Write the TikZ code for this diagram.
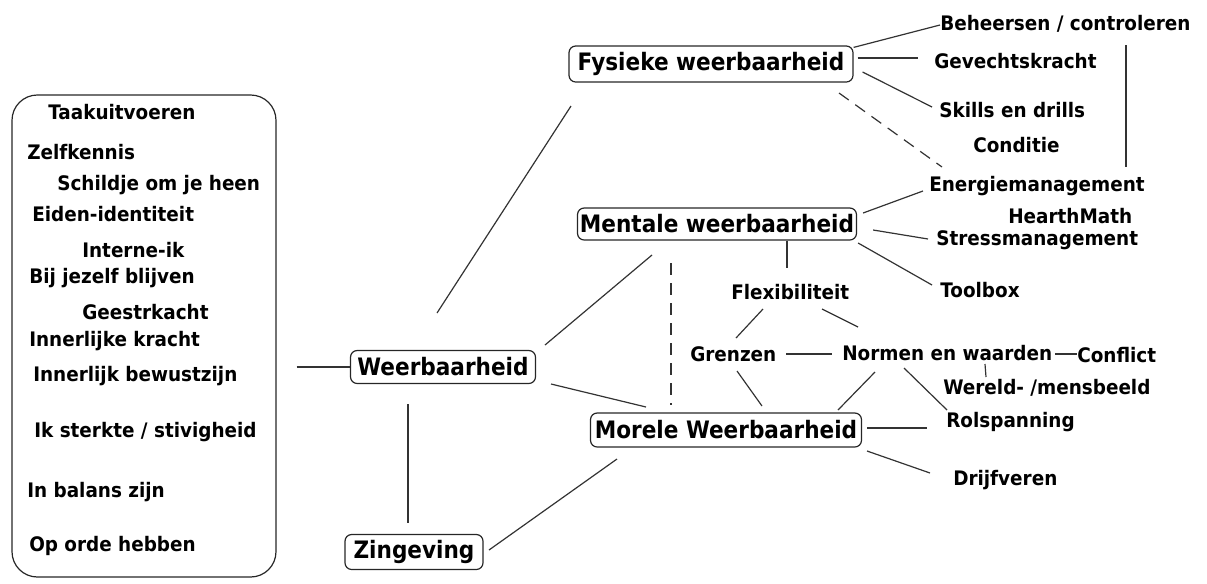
\documentclass[tikz,border=0pt]{standalone}
\usepackage{fontspec}
\usetikzlibrary{calc}
\newfontfamily\lblfont[FakeStretch=0.92]{DejaVu Sans}
\newfontfamily\bigfont[FakeStretch=0.9]{DejaVu Sans}
\tikzset{
  lab/.style={font=\lblfont\bfseries\fontsize{15}{17}\selectfont, inner sep=0pt, anchor=west, text=black},
  bignode/.style={draw=black!85, line width=0.9pt, rounded corners=5pt, font=\bigfont\bfseries\fontsize{18}{20}\selectfont, inner sep=0pt, text=black},
  conn/.style={draw=black!80, line width=0.9pt},
  dconn/.style={conn, dash pattern=on 9pt off 6pt}
}
\begin{document}
\begin{tikzpicture}[x=0.75pt,y=-0.75pt]
\useasboundingbox (0,0) rectangle (1207,583);
% left box
\node[draw=black!85, line width=0.9pt, rounded corners=19pt, minimum width=264*0.75pt, minimum height=482*0.75pt, inner sep=0pt] (lb) at (144,336) {};
\node[lab] (l1) at (48,112) {Taakuitvoeren};
\node[lab] (l2) at (27,152) {Zelfkennis};
\node[lab] (l3) at (57,185) {Schildje om je heen};
\node[lab] (l4) at (32,214) {Eiden-identiteit};
\node[lab] (l5) at (82,250) {Interne-ik};
\node[lab] (l6) at (29,278) {Bij jezelf blijven};
\node[lab] (l7) at (82,312) {Geestrkacht};
\node[lab] (l8) at (29,341) {Innerlijke kracht};
\node[lab] (l9) at (33,376) {Innerlijk bewustzijn};
\node[lab] (l10) at (34,432) {Ik sterkte / stivigheid};
\node[lab] (l11) at (27,492) {In balans zijn};
\node[lab] (l12) at (29,546) {Op orde hebben};
% main nodes
\node[bignode, minimum width=284*0.75pt, minimum height=36*0.75pt] (fy) at (711,64) {Fysieke weerbaarheid};
\node[bignode, minimum width=279*0.75pt, minimum height=32*0.75pt] (me) at (717,224) {Mentale weerbaarheid};
\node[bignode, minimum width=185*0.75pt, minimum height=33*0.75pt] (wb) at (443,367) {Weerbaarheid};
\node[bignode, minimum width=271*0.75pt, minimum height=34*0.75pt] (mo) at (726,430) {Morele Weerbaarheid};
\node[bignode, minimum width=138*0.75pt, minimum height=35*0.75pt] (zi) at (414,552) {Zingeving};
% right labels
\node[lab] (bh) at (940,24) {Beheersen / controleren};
\node[lab] (ge) at (934,61) {Gevechtskracht};
\node[lab] (sk) at (939,110) {Skills en drills};
\node[lab] (co) at (973,145) {Conditie};
\node[lab] (en) at (929,186) {Energiemanagement};
\node[lab] (hm) at (1008,216) {HearthMath};
\node[lab] (st) at (936,240) {Stressmanagement};
\node[lab] (tb) at (940,290) {Toolbox};
\node[lab] (fl) at (731,292) {Flexibiliteit};
\node[lab] (gr) at (690,354) {Grenzen};
\node[lab] (nw) at (842,353) {Normen en waarden};
\node[lab] (cf) at (1077,355) {Conflict};
\node[lab] (wm) at (943,388) {Wereld- /mensbeeld};
\node[lab] (rs) at (946,422) {Rolspanning};
\node[lab] (dr) at (953,480) {Drijfveren};
% connectors
\draw[conn] ($(lb.east |- wb)+(20,0)$) -- (wb.west);
\draw[conn] ($(wb)+(-6,-54)$) -- ($(fy)+(-140,42)$);
\draw[conn] ($(wb)+(102,-22)$) -- ($(me)+(-65,31)$);
\draw[conn] ($(wb)+(108,17)$) -- ($(mo)+(-80,-23)$);
\draw[conn] ($(wb)+(-35,37)$) -- ($(zi)+(-6,-29)$);
\draw[conn] ($(zi)+(75,-2)$) -- ($(mo)+(-109,29)$);
\draw[dconn] ($(me)+(-46,39)$) -- ($(mo)+(-55,-25)$);
\draw[dconn] ($(fy)+(128,29)$) -- ($(en.west)+(13,-19)$);
\draw[conn] ($(fy.north east)+(0,2)$) -- ($(bh.west)+(0,1)$);
\draw[conn] ($(fy.east)+(4,-6)$) -- ($(ge.west)+(-16,-3)$);
\draw[conn] ($(fy.east)+(9,8)$) -- ($(sk.west)+(-7,-3)$);
\draw[conn] ($(bh.west)+(186,21)$) -- ($(en.west)+(197,-19)$);
\draw[conn] ($(me.east)+(6,-11)$) -- ($(en.west)+(-6,5)$);
\draw[conn] ($(me.east)+(16,6)$) -- ($(st.west)+(-8,-1)$);
\draw[conn] ($(me.east)+(1,19)$) -- ($(tb.west)+(-8,-5)$);
\draw[conn] ($(me.south)+(70,0)$) -- ($(fl.west)+(56,-24)$);
\draw[conn] ($(fl.west)+(32,17)$) -- ($(gr.west)+(46,-16)$);
\draw[conn] ($(fl.west)+(91,17)$) -- ($(nw.west)+(16,-26)$);
\draw[conn] ($(gr.west)+(96,0)$) -- ($(nw.west)+(-10,1)$);
\draw[conn] ($(gr.west)+(47,17)$) -- ($(mo)+(36,-24)$);
\draw[conn] ($(nw.west)+(33,19)$) -- ($(mo)+(112,-20)$);
\draw[conn] ($(nw.west)+(62,15)$) -- ($(rs.west)+(1,-12)$);
\draw[conn] ($(nw.west)+(213,1)$) -- ($(cf.west)+(0,-1)$);
\draw[conn] ($(nw.west)+(143,11)$) -- ($(wm.west)+(43,-11)$);
\draw[conn] ($(mo)+(141,-2)$) -- ($(rs.west)+(-19,6)$);
\draw[conn] ($(mo)+(141,21)$) -- ($(dr.west)+(-23,-7)$);
\end{tikzpicture}
\end{document}
